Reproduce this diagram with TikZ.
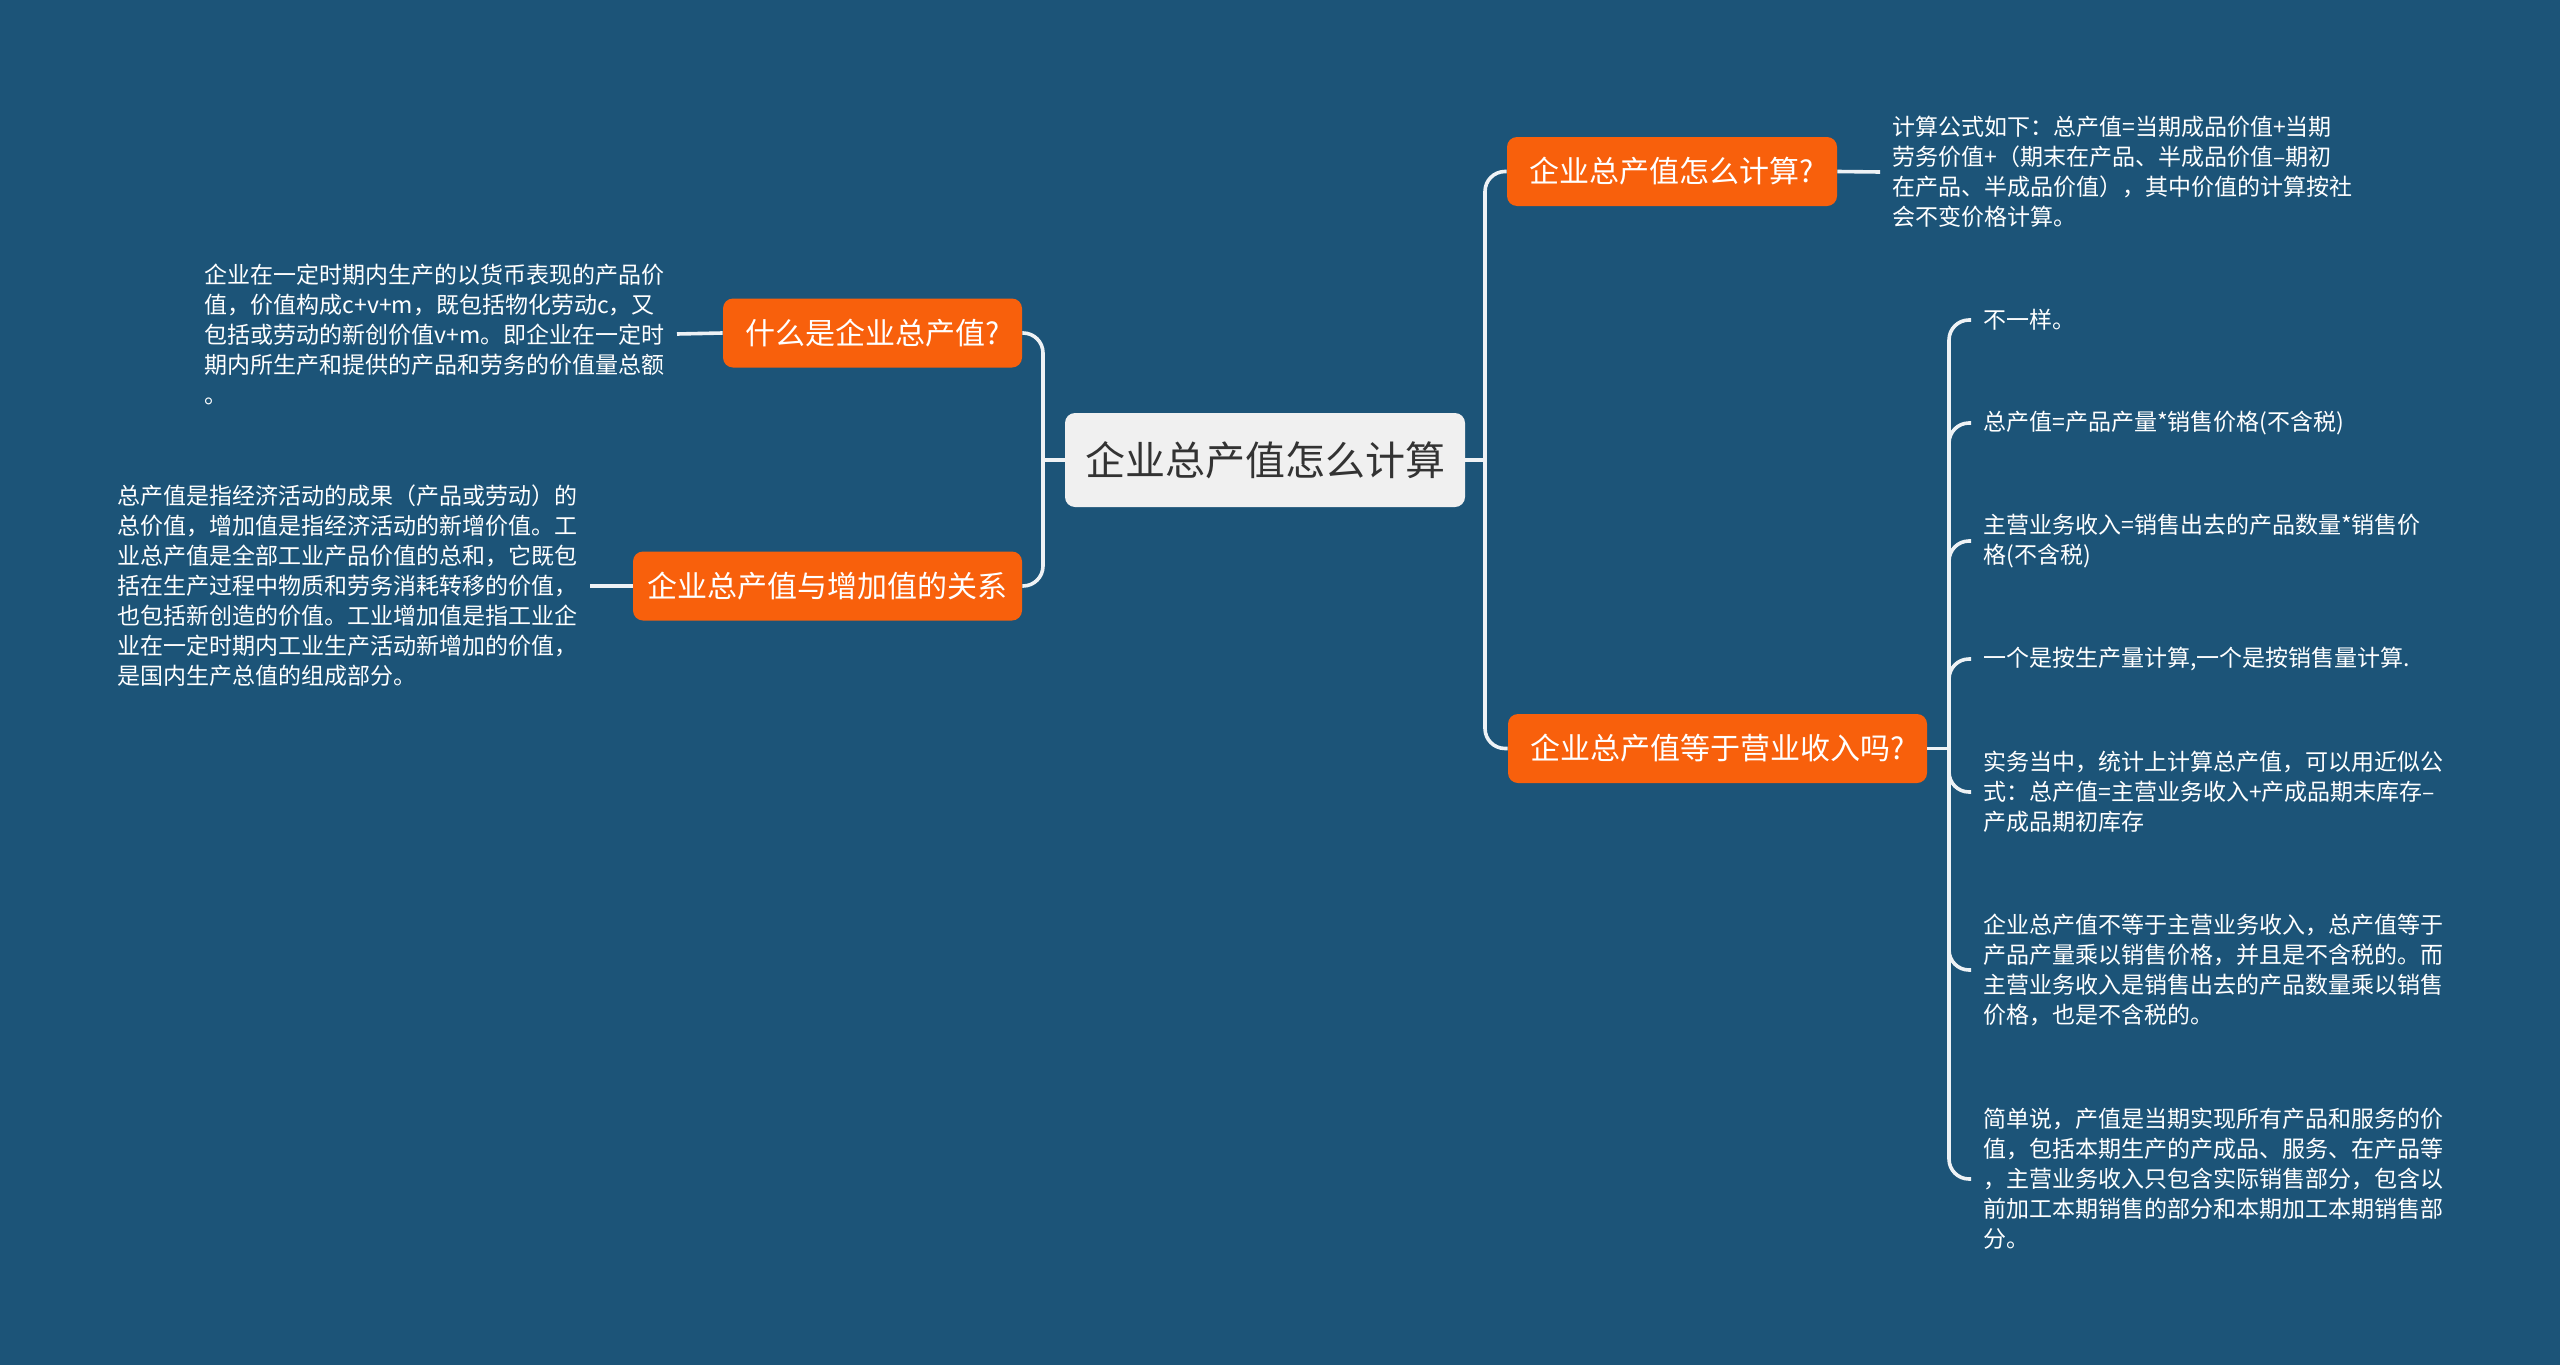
\documentclass[tikz,border=0pt]{standalone}
\usepackage{fontspec}
\setmainfont{Noto Sans CJK SC}
\usetikzlibrary{positioning}
\definecolor{bgblue}{HTML}{1C5478}
\definecolor{topicorange}{HTML}{F8600C}
\definecolor{rootgray}{HTML}{F0F0F0}
\definecolor{linegray}{HTML}{EEF2F5}

\begin{document}
\begin{tikzpicture}[x=0.5pt,y=-0.5pt,
  every node/.style={font=\fontsize{11.5pt}{15pt}\selectfont},
  rootbox/.style={fill=rootgray,text=black!80,rounded corners=5pt,minimum width=200pt,minimum height=47pt,inner sep=0pt,font=\fontsize{20pt}{24pt}\selectfont},
  topic/.style={fill=topicorange,text=white,rounded corners=5pt,minimum height=34.5pt,inner sep=0pt,font=\fontsize{15pt}{18pt}\selectfont},
  note/.style={text=white,align=left,inner xsep=6pt,inner ysep=0pt},
  link/.style={draw=linegray,line width=1.8pt,rounded corners=10pt}
]
  \fill[bgblue] (0,0) rectangle (2560,1365);
  \useasboundingbox (0,0) rectangle (2560,1365);

  % centre and main topics
  \node[rootbox] (root) at (1265,460) {企业总产值怎么计算};
  \node[topic,minimum width=165pt] (b1) at (1672,171.5) {企业总产值怎么计算?};
  \node[topic,minimum width=209.5pt] (b2) at (1717.5,748.5) {企业总产值等于营业收入吗?};
  \node[topic,minimum width=149.5pt] (w1) at (872.5,333) {什么是企业总产值?};
  \node[topic,minimum width=194.5pt] (w2) at (827.5,586) {企业总产值与增加值的关系};

  % notes on the left
  \node[note,anchor=east] (w1t) at (677,334) {企业在一定时期内生产的以货币表现的产品价\\值，价值构成c+v+m，既包括物化劳动c，又\\包括或劳动的新创价值v+m。即企业在一定时\\期内所生产和提供的产品和劳务的价值量总额\\。};
  \node[note,anchor=east] (w2t) at (590,586) {总产值是指经济活动的成果（产品或劳动）的\\总价值，增加值是指经济活动的新增价值。工\\业总产值是全部工业产品价值的总和，它既包\\括在生产过程中物质和劳务消耗转移的价值，\\也包括新创造的价值。工业增加值是指工业企\\业在一定时期内工业生产活动新增加的价值，\\是国内生产总值的组成部分。};

  % notes on the right
  \node[note,anchor=west] (b1t) at (1880,172) {计算公式如下：总产值=当期成品价值+当期\\劳务价值+（期末在产品、半成品价值–期初\\在产品、半成品价值），其中价值的计算按社\\会不变价格计算。};
  \node[note,anchor=west] (r1) at (1971,320) {不一样。};
  \node[note,anchor=west] (r2) at (1971,423) {总产值=产品产量*销售价格(不含税)};
  \node[note,anchor=west] (r3) at (1971,541) {主营业务收入=销售出去的产品数量*销售价\\格(不含税)};
  \node[note,anchor=west] (r4) at (1971,659) {一个是按生产量计算,一个是按销售量计算.};
  \node[note,anchor=west] (r5) at (1971,792) {实务当中，统计上计算总产值，可以用近似公\\式：总产值=主营业务收入+产成品期末库存–\\产成品期初库存};
  \node[note,anchor=west] (r6) at (1971,970) {企业总产值不等于主营业务收入，总产值等于\\产品产量乘以销售价格，并且是不含税的。而\\主营业务收入是销售出去的产品数量乘以销售\\价格，也是不含税的。};
  \node[note,anchor=west] (r7) at (1971,1179) {简单说，产值是当期实现所有产品和服务的价\\值，包括本期生产的产成品、服务、在产品等\\，主营业务收入只包含实际销售部分，包含以\\前加工本期销售的部分和本期加工本期销售部\\分。};

  % junctions
  \coordinate (jl) at (1043,460);
  \coordinate (jr) at (1485,460);
  \coordinate (j2) at (1949,748.5);

  \draw[link] (root.west) -- (jl);
  \draw[link] (jl) |- (w1.east);
  \draw[link] (jl) |- (w2.east);
  \draw[link] (root.east) -- (jr);
  \draw[link] (jr) |- (b1.west);
  \draw[link] (jr) |- (b2.west);
  \draw[link] (w1.west) -- (w1t.east);
  \draw[link] (w2.west) -- (w2t.east);
  \draw[link] (b1.east) -- (b1t.west);
  \draw[link] (b2.east) -- (j2);
  \foreach \n in {1,...,7}
    \draw[link] (j2) |- (r\n.west);
\end{tikzpicture}
\end{document}
